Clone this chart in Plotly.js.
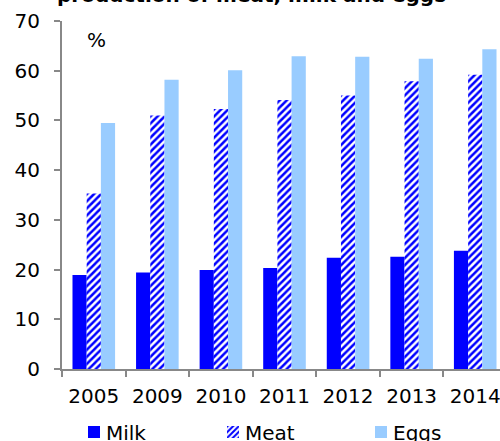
<!DOCTYPE html>
<html>
<head>
<meta charset="utf-8">
<script src="https://cdn.plot.ly/plotly-3.0.1.min.js"></script>
<style>
  html, body { margin: 0; padding: 0; overflow: hidden; background: #fff; }
  #wrap { position: absolute; left: 0; top: -20px; }
  /* pull the legend labels closer to their swatches */
  #chart .legendtext, #chart .legend2text, #chart .legend3text { transform: translate(-8px, 0); }
</style>
</head>
<body>
<div id="wrap"><div id="chart"></div></div>
<script>
// Share (%) of production by year
const years = ['2005', '2009', '2010', '2011', '2012', '2013', '2014'];
const milk = [18.9, 19.4, 19.9, 20.3, 22.4, 22.6, 23.8];
const meat = [35.3, 51.0, 52.3, 54.1, 55.0, 57.9, 59.2];
const eggs = [49.5, 58.2, 60.1, 62.9, 62.8, 62.4, 64.3];

const FONT = 'Verdana, "DejaVu Sans", sans-serif';
const W = 520, H = 470;

const traces = [
  { type: 'bar', name: 'Milk', x: years, y: milk, legend: 'legend',
    marker: { color: '#0000FF', line: { width: 0 } } },
  { type: 'bar', name: 'Meat', x: years, y: meat, legend: 'legend2',
    marker: { color: '#0000FF', line: { width: 0 },
      pattern: { shape: '/', fgcolor: '#0000FF', bgcolor: '#FFFFFF', size: 5, solidity: 0.5 } } },
  { type: 'bar', name: 'Eggs', x: years, y: eggs, legend: 'legend3',
    marker: { color: '#99CCFF', line: { width: 0 } } }
];

// one legend per series so each entry sits at its own spot along the bottom
function legendAt(px) {
  return { orientation: 'h', xref: 'container', yref: 'container',
    x: px / W, y: 1 - 452 / H, xanchor: 'left', yanchor: 'middle',
    font: { family: FONT, size: 20, color: '#000' }, bgcolor: 'rgba(0,0,0,0)' };
}

const layout = {
  width: W, height: H,
  margin: { l: 62, r: 12.5, t: 41, b: 81 },
  paper_bgcolor: '#fff', plot_bgcolor: '#fff',
  font: { family: FONT, size: 20, color: '#000' },
  title: { text: '<b>production of meat, milk and eggs</b>', xref: 'container', yref: 'container',
    x: 57 / W, xanchor: 'left', y: 1 - 15 / H, yanchor: 'middle',
    font: { family: FONT, size: 20, color: '#000' } },
  barmode: 'group', bargap: 0.33, bargroupgap: 0,
  showlegend: true,
  legend: legendAt(74),
  legend2: legendAt(213),
  legend3: legendAt(361),
  xaxis: { type: 'category', tickson: 'boundaries', ticks: 'outside', ticklen: 6,
    tickcolor: '#888', tickwidth: 2, showline: true, linecolor: '#888', linewidth: 2,
    showgrid: false, ticklabelstandoff: 8, tickfont: { family: FONT, size: 20 } },
  yaxis: { range: [0, 70], dtick: 10, ticks: 'outside', ticklen: 6,
    tickcolor: '#888', tickwidth: 2, showline: true, linecolor: '#888', linewidth: 2,
    showgrid: false, zeroline: false, ticklabelstandoff: 10, tickfont: { family: FONT, size: 20 } },
  annotations: [
    { text: '%', xref: 'paper', yref: 'paper', x: 0.0786, y: 0.945,
      xanchor: 'center', yanchor: 'middle', showarrow: false,
      font: { family: FONT, size: 20, color: '#000' } }
  ]
};

Plotly.newPlot('chart', traces, layout, { displayModeBar: false, staticPlot: true });
</script>
</body>
</html>
